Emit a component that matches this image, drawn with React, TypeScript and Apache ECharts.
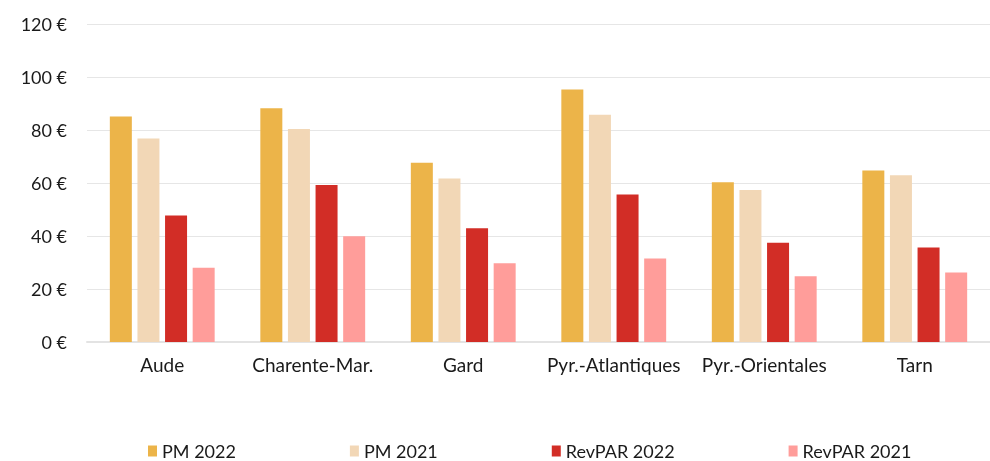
import React, { useEffect, useRef } from "react";
import * as echarts from "echarts";

const categories = ["Aude", "Charente-Mar.", "Gard", "Pyr.-Atlantiques", "Pyr.-Orientales", "Tarn"];
const pm2022 = [85.1, 88.2, 67.6, 95.3, 60.3, 64.7];
const pm2021 = [76.8, 80.4, 61.7, 85.8, 57.4, 62.9];
const revpar2022 = [47.7, 59.2, 42.9, 55.7, 37.5, 35.7];
const revpar2021 = [28.0, 39.9, 29.7, 31.5, 24.8, 26.2];
const seriesNames = ["PM 2022", "PM 2021", "RevPAR 2022", "RevPAR 2021"];
const colors = ["#ECB449", "#F2D7B6", "#D22D26", "#FF9D9A"];
const yTicks = [0, 20, 40, 60, 80, 100, 120];

const FONT = "Lato, 'Noto Sans', sans-serif";

export default function App() {
  const ref = useRef<HTMLDivElement>(null);
  useEffect(() => {
    if (!ref.current) return;
    const chart = echarts.init(ref.current, null, { renderer: "svg" });
    const data = [pm2022, pm2021, revpar2022, revpar2021];
    chart.setOption({
      animation: false,
      textStyle: { fontFamily: FONT },
      grid: { left: 87, right: -22, top: 24, bottom: 119, containLabel: false },
      legend: {
        left: 148,
        bottom: 1,
        padding: 0,
        itemWidth: 9,
        itemHeight: 11,
        itemGap: 114,
        icon: "rect",
        textStyle: { fontSize: 18, color: "#1a1a1a", fontFamily: FONT },
        data: seriesNames,
      },
      xAxis: {
        type: "category",
        data: categories,
        axisLine: { lineStyle: { color: "#e3e3e3", width: 2 } },
        axisTick: { show: false },
        axisLabel: { interval: 0, fontSize: 19, color: "#1a1a1a", margin: 13, fontFamily: FONT },
      },
      yAxis: {
        type: "value",
        min: yTicks[0],
        max: yTicks[yTicks.length - 1],
        interval: 20,
        axisLine: { show: false },
        axisTick: { show: false },
        splitLine: { lineStyle: { color: "#e6e6e6", width: 1 } },
        axisLabel: {
          fontSize: 18,
          color: "#1a1a1a",
          margin: 20,
          fontFamily: FONT,
          formatter: (v: number) => `${v} €`,
        },
      },
      series: seriesNames.map((name, i) => ({
        name,
        type: "bar",
        data: data[i],
        barWidth: 22,
        barGap: "25.5%",
        itemStyle: { color: colors[i] },
      })),
    });
    return () => chart.dispose();
  }, []);
  return <div ref={ref} style={{ position: "fixed", left: 0, top: 0, width: 990, height: 461 }} />;
}
